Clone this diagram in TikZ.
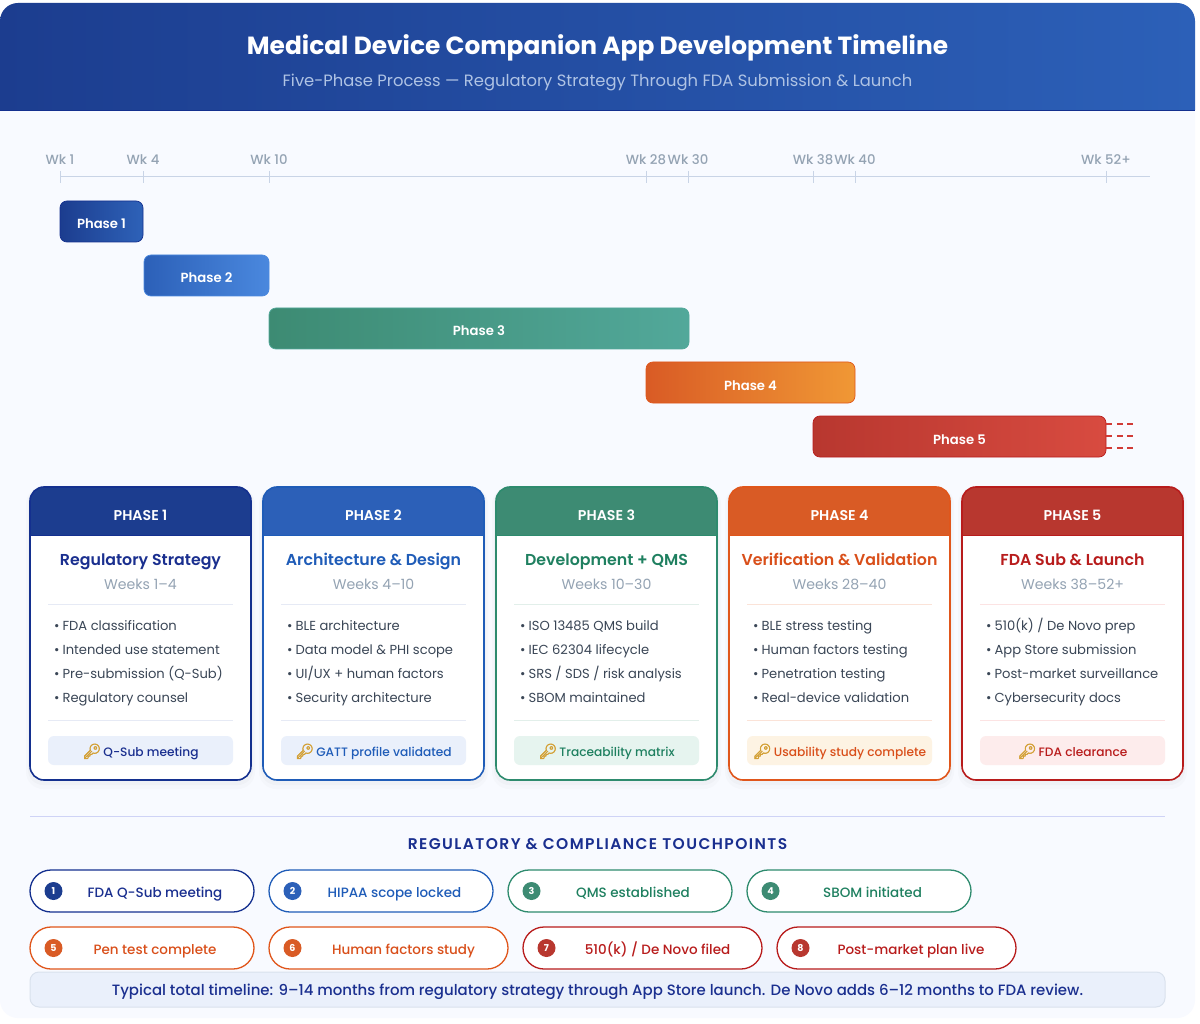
\documentclass[tikz,border=0pt]{standalone}
\usepackage{fontspec}
\setmainfont{Poppins}
\newfontfamily\medfont{Poppins Medium}
\newfontfamily\semifont{Poppins SemiBold}
\newfontfamily\emojifont[FakeBold=3]{Noto Emoji}
\usetikzlibrary{positioning,calc}

\definecolor{panelbg}{HTML}{F8FAFF}
\definecolor{axisc}{HTML}{C9D4E6}
\definecolor{wkc}{HTML}{94A3B3}
\definecolor{bodyc}{HTML}{3A4656}
\definecolor{keyc}{HTML}{D3A035}
\definecolor{openc}{HTML}{D13B36}
% phase colours
\definecolor{hdr1}{HTML}{1C3D8F}\definecolor{edge1}{HTML}{14308F}\definecolor{ttl1}{HTML}{1A2F8F}\definecolor{rule1}{HTML}{E6EAF5}\definecolor{badge1}{HTML}{EAF0FB}\definecolor{bar1r}{HTML}{2E62B8}
\definecolor{hdr2}{HTML}{2C60B8}\definecolor{edge2}{HTML}{1F5CB8}\definecolor{ttl2}{HTML}{1F5CB8}\definecolor{rule2}{HTML}{E6EAF5}\definecolor{badge2}{HTML}{EAF0FB}\definecolor{bar2r}{HTML}{4A88DE}
\definecolor{hdr3}{HTML}{3D8B73}\definecolor{edge3}{HTML}{2E8B6E}\definecolor{ttl3}{HTML}{1F8060}\definecolor{rule3}{HTML}{E2EFEA}\definecolor{badge3}{HTML}{E6F4EF}\definecolor{bar3r}{HTML}{52A89A}
\definecolor{hdr4}{HTML}{D95B25}\definecolor{edge4}{HTML}{E0561B}\definecolor{ttl4}{HTML}{D94F1A}\definecolor{rule4}{HTML}{FBE3D8}\definecolor{badge4}{HTML}{FDF3E3}\definecolor{bar4r}{HTML}{F09835}
\definecolor{hdr5}{HTML}{B8372F}\definecolor{edge5}{HTML}{B81C1C}\definecolor{ttl5}{HTML}{B81C1C}\definecolor{rule5}{HTML}{FCE3E3}\definecolor{badge5}{HTML}{FDECEC}\definecolor{bar5r}{HTML}{D84B40}

\newcommand{\fs}[1]{\fontsize{#1}{#1}\selectfont}
\tikzset{
  basetext/.style={anchor=base,inner sep=0pt},
  wklabel/.style={basetext,text=wkc,font=\fs{13.3}\medfont},
  barbox/.style={rounded corners=7pt,minimum height=41pt,inner sep=0pt,line width=0.7pt,text=white,font=\fs{13.2}\semifont,text height=15pt,text depth=0pt},
  bulletitem/.style={anchor=base west,text=bodyc,font=\fs{13.1},inner sep=0pt},
  pillbox/.style={draw,line width=1.3pt,fill=white,rounded corners=21pt,minimum height=42pt,inner sep=0pt},
  pilltext/.style={basetext,font=\fs{13.5}\medfont},
  numdot/.style={circle,minimum size=18pt,inner sep=0pt,text=white,font=\fs{9.5}\bfseries},
}

% number, left edge, title, weeks, four bullets, milestone
\newcommand{\phasecard}[9]{
  \def\cx{#2}
  \fill[black,opacity=0.015,rounded corners=17pt] ({\cx-4},487) rectangle ({\cx+225},789);
  \fill[black,opacity=0.02,rounded corners=15pt] ({\cx-2},487) rectangle ({\cx+223},785);
  \fill[white,rounded corners=14pt] (\cx,487) rectangle ({\cx+221},780);
  \begin{scope}
    \clip[rounded corners=14pt] (\cx,487) rectangle ({\cx+221},780);
    \fill[hdr#1] (\cx,487) rectangle ({\cx+221},535);
  \end{scope}
  \draw[edge#1,line width=1.6pt,rounded corners=14pt] (\cx,487) rectangle ({\cx+221},780);
  \draw[edge#1,line width=0.8pt] (\cx,535) -- ({\cx+221},535);
  \node[basetext,text=white,font=\fs{14.2}\semifont] (head#1) at ({\cx+110.5},520) {PHASE #1};
  \node[basetext,text=ttl#1,font=\fs{15.8}\semifont] (title#1) at ({\cx+110.5},565.5) {#3};
  \node[basetext,text=wkc,font=\fs{14.1}] (weeks#1) at ({\cx+110.5},589) {#4};
  \draw[rule#1,line width=1pt] ({\cx+18},604) -- ({\cx+203},604);
  \draw[rule#1,line width=1pt] ({\cx+18},720.5) -- ({\cx+203},720.5);
  \node[bulletitem] (itema#1) at ({\cx+24},630.5) {•\hspace{3pt}#5};
  \node[bulletitem] (itemb#1) at ({\cx+24},654.5) {•\hspace{3pt}#6};
  \node[bulletitem] (itemc#1) at ({\cx+24},678.5) {•\hspace{3pt}#7};
  \node[bulletitem] (itemd#1) at ({\cx+24},702.5) {•\hspace{3pt}#8};
  \fill[badge#1,rounded corners=6pt] ({\cx+18},736) rectangle ({\cx+203},765);
  \node[basetext,text=ttl#1,font=\fs{12.2}\medfont] (key#1) at ({\cx+110.5},756.5) {{\color{keyc}\emojifont\fs{15}🔑}\hspace{2pt}#9};
}

% name, colour number, left edge, width, top, text centre, text
\newcommand{\regpill}[7]{
  \node[pillbox,draw=edge#2,minimum width=#4 pt] (pill#1) at ({#3+#4/2},{#5+21}) {};
  \node[numdot,fill=hdr#2] (num#1) at ({#3+23.5},{#5+21}) {#1};
  \node[pilltext,text=ttl#2] (label#1) at (#6,{#5+27}) {#7};
}

\begin{document}
\begin{tikzpicture}[x=1pt,y=-1pt]
  \useasboundingbox (0,0) rectangle (1200,1024);
  \fill[white] (0,0) rectangle (1200,1024);
  \fill[panelbg,rounded corners=18pt] (0,3) rectangle (1195,1018);
  % title band
  \begin{scope}
    \clip[rounded corners=18pt] (0,3) rectangle (1195,1018);
    \shade[left color=hdr1,right color=hdr2] (0,3) rectangle (1195,110);
  \end{scope}
  \draw[edge1,line width=0.8pt] (0,110) -- (1195,110);
  \node[basetext,text=white,font=\fs{24.85}\bfseries] (maintitle) at (597.5,54.5) {Medical Device Companion App Development Timeline};
  \node[basetext,text=white!62!hdr2,font=\fs{16.37}] (subtitle) at (597.5,87) {Five-Phase Process — Regulatory Strategy Through FDA Submission \& Launch};
  % week axis
  \draw[axisc,line width=1pt] (60,177) -- (1150,177);
  \foreach \wx/\wname/\wtxt in {60/a/Wk 1,143/b/Wk 4,269/c/Wk 10,646/d/Wk 28,688/e/Wk 30,813/f/Wk 38,855/g/Wk 40,1106/h/Wk 52+}{
    \draw[axisc,line width=1pt] (\wx,171) -- (\wx,183);
    \node[wklabel] (wk\wname) at (\wx,165) {\wtxt};
  }
  % bars
  \node[barbox,draw=edge1,left color=hdr1,right color=bar1r,minimum width=83pt] (bar1) at (101.5,221.5) {Phase 1};
  \node[barbox,draw=bar2r,left color=hdr2,right color=bar2r,minimum width=125pt] (bar2) at (206.5,275.5) {Phase 2};
  \node[barbox,draw=bar3r,left color=hdr3,right color=bar3r,minimum width=420pt] (bar3) at (479,328.5) {Phase 3};
  \node[barbox,draw=edge4,left color=hdr4,right color=bar4r,minimum width=209pt] (bar4) at (750.5,382.5) {Phase 4};
  \node[barbox,draw=edge5,left color=hdr5,right color=bar5r,minimum width=293pt] (bar5) at (959.5,436.5) {Phase 5};
  % open end of phase 5
  \coordinate (opena) at (1133,424);
  \coordinate (openb) at (1133,436);
  \coordinate (openc) at (1133,448);
  \draw[openc,line width=2pt,dash pattern=on 6pt off 4.5pt] (bar5.east |- opena) -- (opena);
  \draw[openc,line width=2pt,dash pattern=on 6pt off 4.5pt] (bar5.east |- openb) -- (openb);
  \draw[openc,line width=2pt,dash pattern=on 6pt off 4.5pt] (bar5.east |- openc) -- (openc);
  % cards
  \phasecard{1}{30}{Regulatory Strategy}{Weeks 1–4}{FDA classification}{Intended use statement}{Pre-submission (Q-Sub)}{Regulatory counsel}{Q-Sub meeting}
  \phasecard{2}{263}{Architecture \& Design}{Weeks 4–10}{BLE architecture}{Data model \& PHI scope}{UI/UX + human factors}{Security architecture}{GATT profile validated}
  \phasecard{3}{496}{Development + QMS}{Weeks 10–30}{ISO 13485 QMS build}{IEC 62304 lifecycle}{SRS / SDS / risk analysis}{SBOM maintained}{Traceability matrix}
  \phasecard{4}{729}{Verification \& Validation}{Weeks 28–40}{BLE stress testing}{Human factors testing}{Penetration testing}{Real-device validation}{Usability study complete}
  \phasecard{5}{962}{FDA Sub \& Launch}{Weeks 38–52+}{510(k) / De Novo prep}{App Store submission}{Post-market surveillance}{Cybersecurity docs}{FDA clearance}
  % touchpoints
  \draw[rule1!90!blue,line width=1pt] (30,816.5) -- (1165,816.5);
  \node[basetext,text=ttl1,font=\fs{15.5}\semifont\addfontfeatures{LetterSpace=9.2}] (touchhead) at (597.5,849) {REGULATORY \& COMPLIANCE TOUCHPOINTS};
  \regpill{1}{1}{30}{224}{870}{155}{FDA Q-Sub meeting}
  \regpill{2}{2}{269}{224}{870}{394.5}{HIPAA scope locked}
  \regpill{3}{3}{508}{224}{870}{633}{QMS established}
  \regpill{4}{3}{747}{224}{870}{872.5}{SBOM initiated}
  \regpill{5}{4}{30}{224}{927}{155}{Pen test complete}
  \regpill{6}{4}{269}{239}{927}{403.5}{Human factors study}
  \regpill{7}{5}{523}{239}{927}{657.5}{510(k) / De Novo filed}
  \regpill{8}{5}{777}{239}{927}{911}{Post-market plan live}
  % footer note
  \node[draw=axisc!70!white,fill=badge1,line width=1pt,rounded corners=9pt,minimum width=1135pt,minimum height=35pt,inner sep=0pt,text=ttl1,font=\fs{14.95}\medfont,text height=11pt,text depth=0pt] (footnote) at (597.5,989.5) {Typical total timeline: 9–14 months from regulatory strategy through App Store launch. De Novo adds 6–12 months to FDA review.};
\end{tikzpicture}
\end{document}
